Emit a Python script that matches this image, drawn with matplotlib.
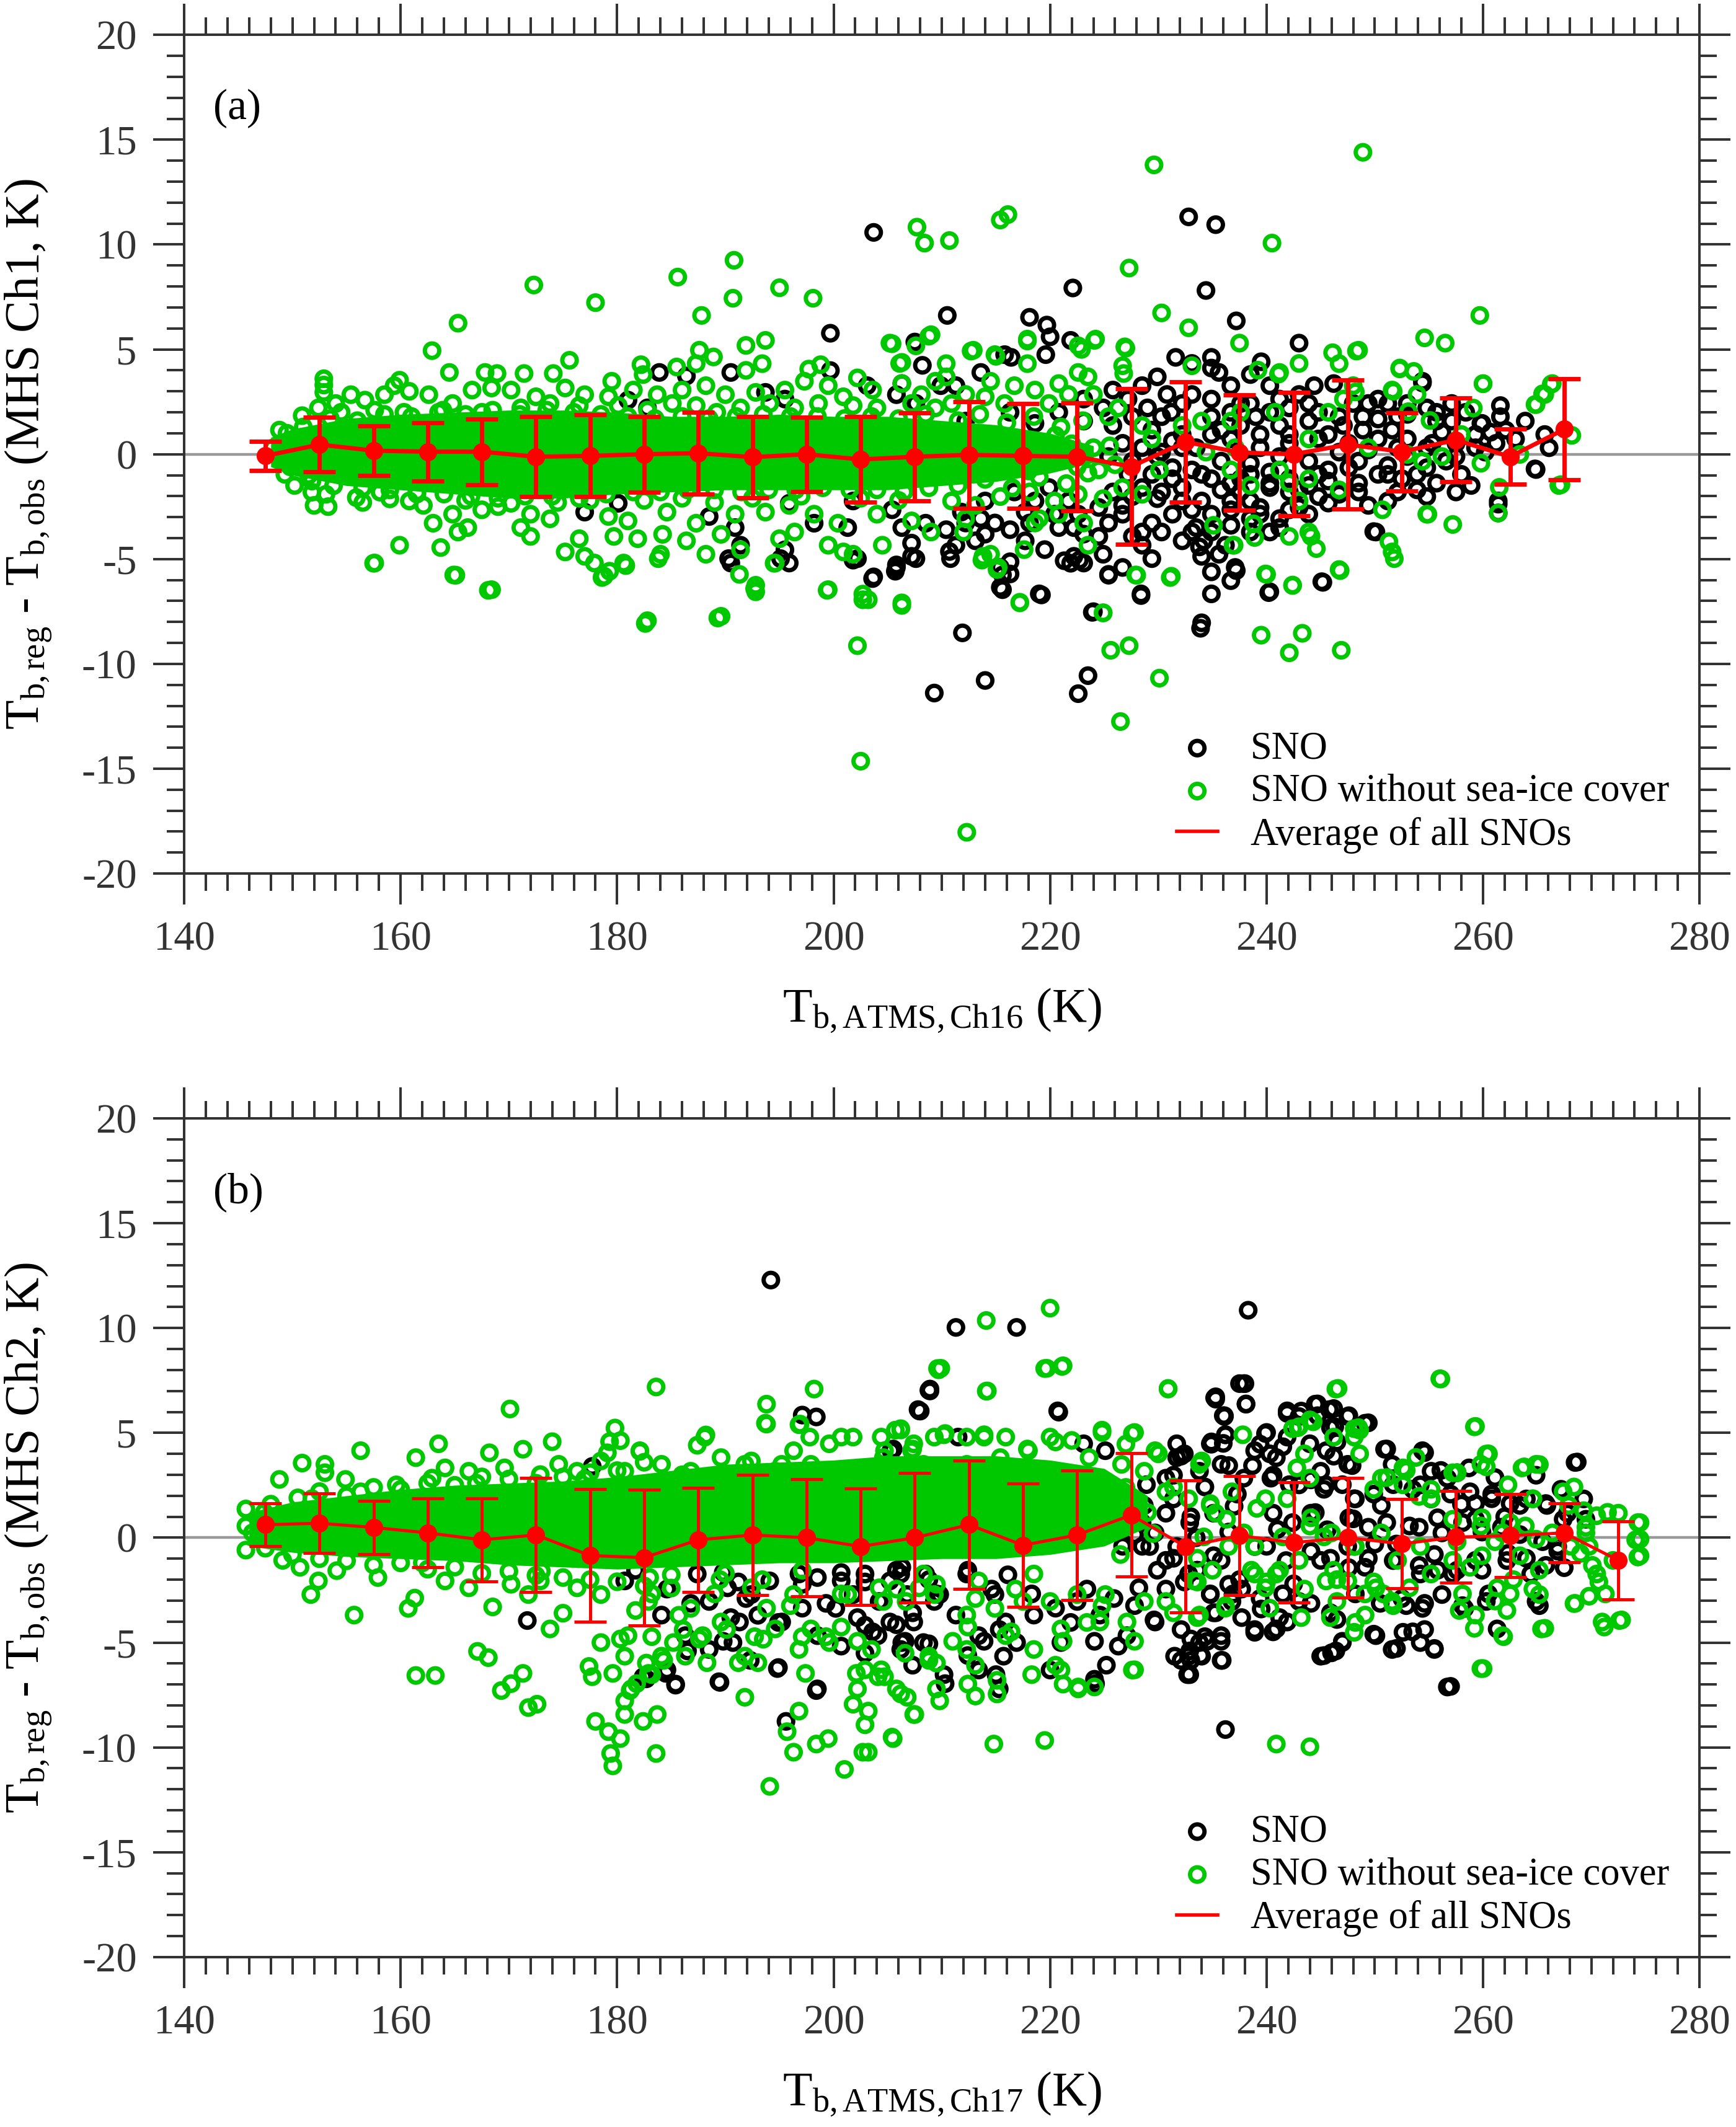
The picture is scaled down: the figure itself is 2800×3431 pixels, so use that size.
import matplotlib
matplotlib.use("Agg")
import matplotlib.pyplot as plt
from matplotlib.ticker import MultipleLocator
from matplotlib.lines import Line2D

plt.rcParams['font.family'] = ['Liberation Serif', 'DejaVu Serif']
plt.rcParams['mathtext.fontset'] = 'custom'
plt.rcParams['mathtext.rm'] = 'Liberation Serif'
plt.rcParams['mathtext.it'] = 'Liberation Serif:italic'
plt.rcParams['axes.unicode_minus'] = False

GREEN = '#00c800'
AXCOL = '#333333'

# ---------------- panel (a): MHS Ch1 vs ATMS Ch16 ----------------
BIN_A = [147.5, 152.5, 157.5, 162.5, 167.5, 172.5, 177.5, 182.5, 187.5, 192.5,
         197.5, 202.5, 207.5, 212.5, 217.5, 222.5, 227.5, 232.5, 237.5, 242.5,
         247.5, 252.5, 257.5, 262.5, 267.5]
MEAN_A = [-0.08, 0.46, 0.17, 0.12, 0.12, -0.12, -0.08, 0.0, 0.05, -0.14,
          0.0, -0.25, -0.12, -0.03, -0.08, -0.12, -0.59, 0.59, 0.08, 0.0,
          0.46, 0.12, 0.68, -0.12, 1.19]
STD_A = [0.70, 1.30, 1.17, 1.39, 1.57, 1.90, 1.95, 1.80, 1.96, 1.93,
         1.77, 2.03, 2.10, 2.54, 2.49, 2.57, 3.72, 2.87, 2.76, 2.95,
         3.07, 1.86, 1.99, 1.32, 2.42]

# saturated core of the green cloud (markers overlap into a solid band)
DENSE_A_X = [148, 150, 155, 160, 165, 170, 175, 180, 185, 190, 195, 200, 205, 210, 215, 220, 224]
DENSE_A_HI = [0.8, 1.2, 1.7, 1.9, 2.0, 2.1, 2.1, 2.0, 1.8, 1.8, 1.9, 1.8, 1.8, 1.6, 1.4, 1.0, 0.4]
DENSE_A_LO = [-0.6, -1.0, -1.5, -1.7, -1.9, -2.1, -2.1, -1.9, -1.8, -1.7, -1.7, -1.7, -1.7, -1.5, -1.3, -0.9, -0.4]

GREEN_A = [
    (172.3, 8.07), (178.0, 7.23), (165.3, 6.25), (162.9, 4.94), (190.7, 7.44), (195.0, 7.94),
    (198.1, 7.44), (187.8, 6.62), (191.9, 5.19), (193.7, 5.43), (193.4, 4.32), (185.6, 8.45),
    (190.8, 9.25), (175.6, 4.48), (174.1, 3.85), (164.5, 3.9), (167.8, 3.9), (168.9, 3.85),
    (171.4, 3.85), (152.9, 3.6), (152.9, 3.3), (152.9, 2.95), (159.9, 3.53), (159.4, 3.27),
    (179.5, 3.48), (182.2, 4.27), (182.4, 3.8), (185.5, 4.16), (187.6, 4.96), (188.9, 4.64),
    (187.3, 4.32), (191.9, 4.0), (197.7, 4.06), (198.8, 4.27), (202.2, 3.64), (205.4, 5.27),
    (206.3, 4.38), (209.0, 5.7), (207.6, 5.17),
    (150.9, 1.84), (148.8, 1.15), (148.2, 0.3), (152.4, 2.21), (154.0, 2.42), (155.4, 2.84),
    (156.7, 2.58), (158.5, 2.84), (160.8, 3.0), (162.6, 2.84), (164.8, 2.42), (166.6, 3.06),
    (168.4, 3.16), (170.2, 3.06), (172.5, 2.74), (175.2, 3.16), (177.0, 2.84), (179.2, 2.74),
    (181.5, 3.06), (183.7, 2.84), (186.0, 3.06), (188.2, 3.27), (190.0, 2.84), (192.8, 2.95),
    (195.5, 3.06), (197.3, 3.48), (199.5, 3.27), (200.9, 2.74), (203.6, 3.06), (206.3, 3.37),
    (208.1, 2.84), (209.4, 3.48),
    (154.5, 2.0), (157.6, 2.1), (160.3, 2.0), (163.9, 2.1), (167.5, 2.0), (171.1, 2.21),
    (173.8, 2.42), (176.5, 2.32), (180.1, 2.32), (182.8, 2.1), (185.1, 2.42), (187.3, 2.32),
    (189.2, 2.0), (191.4, 2.21), (194.1, 2.42), (196.4, 2.21), (198.6, 2.42), (201.8, 2.32),
    (204.0, 2.21), (207.2, 2.42), (209.4, 2.21),
    (149.5, 1.0), (151.0, 1.3), (153.5, 1.7), (156.0, 1.6), (158.5, 1.9), (161.0, 1.8),
    (163.5, 2.0), (166.0, 1.9), (168.5, 2.1), (171.0, 1.9), (173.5, 2.1), (176.0, 2.0),
    (178.5, 1.9), (181.0, 1.8), (183.5, 1.7), (186.0, 1.8), (188.5, 1.7), (191.0, 1.8),
    (193.5, 1.9), (196.0, 1.8), (198.5, 1.8), (201.0, 1.7), (203.5, 1.8), (206.0, 1.7),
    (208.5, 1.9), (149.8, -0.6), (151.5, -1.0), (153.8, -1.5), (156.5, -1.6), (159.0, -1.7),
    (161.5, -1.8), (164.0, -1.9), (166.5, -2.0), (169.0, -2.1), (171.5, -2.0), (174.0, -2.0),
    (176.5, -2.1), (179.0, -1.9), (181.5, -1.8), (184.0, -1.8), (186.5, -1.7), (189.0, -1.7),
    (191.5, -1.8), (194.0, -1.7), (196.5, -1.7), (199.0, -1.6), (201.5, -1.7), (204.0, -1.7),
    (206.5, -1.8), (208.8, -1.6),
    (149.3, -0.96), (150.2, -1.49), (151.8, -1.28), (151.8, -1.81), (152.0, -2.44), (153.3, -2.5),
    (153.1, -1.91), (154.9, -0.96), (155.9, -2.07), (158.1, -1.81), (159.0, -2.13), (160.8, -2.23),
    (162.1, -2.44), (163.0, -3.29), (164.8, -2.86), (165.3, -3.71), (166.2, -3.5), (167.5, -2.65),
    (170.2, -2.34), (172.0, -2.86), (172.0, -3.92), (173.8, -3.08), (175.2, -4.66), (176.5, -4.03),
    (177.0, -4.87), (177.9, -5.19), (179.2, -2.97), (179.7, -3.92), (181.0, -3.18), (181.9, -4.03),
    (184.0, -4.77), (184.2, -3.82), (186.4, -4.13), (188.2, -4.77), (189.6, -3.82), (191.4, -4.56),
    (192.8, -6.25), (194.6, -5.19), (196.4, -3.71), (199.5, -4.34), (201.8, -4.77), (202.7, -6.67),
    (206.3, -7.09), (199.5, -6.46), (189.6, -7.73), (182.8, -7.94), (178.8, -5.82), (180.6, -5.19),
    (168.4, -6.46), (165.1, -5.77), (159.9, -4.34), (157.6, -5.19), (163.7, -4.45), (171.1, -3.5),
    (184.6, -2.76), (187.3, -3.29), (190.9, -2.86), (193.7, -2.76), (195.9, -2.44), (198.2, -2.86),
    (200.4, -3.29), (204.0, -2.86), (207.2, -3.18), (209.0, -3.71), (204.5, -4.34), (200.9, -4.66),
    (195.0, -4.03), (156.5, -2.3), (161.5, -1.9), (166.0, -2.2), (169.0, -2.5), (174.5, -2.3),
    (177.5, -2.2), (182.5, -2.2), (186.0, -2.1), (189.0, -2.3), (192.5, -2.1), (197.0, -2.0),
    (202.5, -2.1), (206.0, -2.2),
    (157.5, -5.2), (164.9, -5.76), (168.1, -6.49), (182.6, -8.07), (189.3, -7.81), (178.6, -5.88),
    (179.3, -5.58), (180.8, -5.31), (183.8, -4.98), (191.3, -5.73), (192.7, -6.41), (192.8, -6.56),
    (194.5, -5.2), (199.4, -6.49), (202.2, -9.13), (202.5, -14.64), (202.7, -6.94),
    (206.3, -7.21), (203.2, -6.94), (213.7, -5.05), (215.1, -5.5), (217.2, -7.06), (224.9, -7.57),
    (225.6, -9.35), (227.3, -9.13), (230.1, -10.68), (226.5, -12.75), (227.9, -5.76), (231.1, -5.88),
    (240.0, -5.73), (242.4, -6.26), (246.8, -5.55), (239.5, -8.63), (243.3, -8.54), (242.1, -9.47),
    (246.9, -9.35), (212.3, -18.03), (251.8, -4.98),
    (248.9, 14.4), (229.6, 13.8), (215.4, 11.17), (216.1, 11.43), (207.7, 10.83), (208.4, 10.07),
    (210.7, 10.19), (240.5, 10.07), (227.3, 8.88), (230.3, 6.74), (232.8, 6.03), (237.5, 5.3),
    (259.7, 6.62), (254.6, 5.55), (256.5, 5.3), (205.2, 5.3), (208.8, 5.63), (217.9, 5.4),
    (227.0, 5.06), (246.1, 4.84), (248.3, 4.92), (243.0, 4.33), (252.3, 4.07), (253.6, 3.95),
    (260.0, 3.36), (266.3, 3.34), (265.5, 2.88), (264.9, 2.37), (251.7, 3.0), (259.1, 2.2),
    (268.2, 0.9), (267.2, -1.45), (261.5, -1.58), (254.9, -2.86), (257.2, -3.35), (251.3, -4.17),
    (237.0, -4.34), (244.1, -3.91), (238.8, -3.32), (226.8, 3.85), (215.0, 4.67), (212.7, 4.92),
    (206.1, 4.33), (224.1, 5.43), (222.9, 5.0), (241.1, 3.82), (248.2, 2.97), (253.1, 2.03),
    (255.1, 1.61),
    (246.7, 4.32), (248.5, 4.96), (252.3, 4.11), (251.6, 3.06), (253.9, 2.85), (260.0, 3.37),
    (264.8, 2.37), (265.7, 2.85), (266.4, 3.37), (267.0, -1.49), (261.4, -2.81), (254.8, -2.86),
    (251.6, -4.66), (250.7, -2.65), (246.7, -5.5), (242.4, -6.24), (239.9, -5.71), (236.9, -4.34),
    (238.9, -3.97), (235.1, -3.39), (231.2, -5.82), (228.0, -5.77), (217.2, -7.09), (224.9, -7.56),
    (215.2, -5.4), (213.8, -4.87), (217.6, -4.55), (212.0, -3.71), (223.5, -4.34), (226.7, -1.59),
    (228.5, -1.91), (230.1, -0.75), (232.2, 1.37), (233.1, 4.22), (234.0, 1.58), (236.7, 1.58),
    (237.6, 2.0), (239.2, 4.01), (241.2, 3.9), (240.8, 2.0), (243.9, 0.73), (245.7, 2.0),
    (247.1, 2.63), (248.0, 3.27), (249.4, 0.31), (253.0, -0.01), (254.4, -0.33), (256.2, -0.11),
    (258.0, 0.94), (259.8, -0.43), (263.4, -0.01), (246.7, -1.7), (243.9, -1.17), (242.1, -1.38),
    (241.2, -0.75), (238.5, -1.49), (236.7, -0.75), (234.4, 0.1), (237.1, 0.31), (243.0, -2.23),
    (243.9, -3.71), (244.6, -4.5), (242.1, -3.92), (226.7, 4.22), (226.9, 5.12), (228.5, 1.37),
    (229.4, 0.73), (225.4, 1.79), (226.3, 2.21), (224.0, 0.31), (224.5, -0.75), (224.9, -2.12),
    (223.1, -3.28), (220.8, -2.86), (219.0, -3.07), (214.5, -4.77),
    (210.4, 4.32), (212.9, 4.96), (214.9, 4.75), (217.9, 5.49), (217.9, 4.32), (222.6, 5.17),
    (224.2, 5.49), (223.5, 3.69), (222.6, 3.9), (220.8, 3.37), (218.6, 3.06), (216.7, 3.27),
    (214.5, 3.48), (214.0, 2.74), (212.2, 2.85), (210.4, 3.69), (210.9, 2.42), (215.8, 2.42),
    (219.9, 2.42), (221.7, 2.85), (224.0, 2.85), (210.9, -2.23), (213.1, -2.44), (215.4, -2.02),
    (218.1, -1.8), (220.4, -2.23), (222.6, -1.91), (218.6, -3.28), (212.2, -3.07),
    (211.5, 1.6), (213.5, 1.9), (216.0, 1.5), (218.5, 1.8), (221.0, 1.3), (223.0, 1.6),
    (211.5, -1.5), (214.0, -1.2), (216.5, -1.6), (219.0, -1.1), (221.5, -1.4), (223.5, -0.9),
    (212.0, 0.4), (214.5, -0.3), (217.0, 0.6), (219.5, -0.2), (222.0, 0.5), (212.5, 1.0),
    (215.5, 0.9), (218.0, -0.8), (220.5, 0.9), (222.5, -0.6), (225.5, 0.4), (226.0, -0.5),
]

BLACK_A = [
    (199.7, 5.77), (183.9, 3.9), (186.4, 3.73), (190.5, 3.9), (199.7, 3.99), (203.7, 10.58),
    (232.8, 11.32), (235.3, 10.95), (222.1, 7.93), (234.4, 7.81), (210.5, 6.62), (237.2, 6.36),
    (218.1, 6.53), (219.7, 6.16), (220.0, 5.6), (221.9, 5.43), (243.0, 5.3), (207.5, 5.35),
    (208.2, 4.24), (219.6, 4.75), (216.4, 4.62), (231.6, 4.62), (234.9, 4.62), (239.5, 4.41),
    (254.4, 3.4), (259.9, 1.47), (264.9, -0.73), (249.9, -3.69), (261.4, -2.38), (261.4, -2.8),
    (210.7, -4.64), (233.8, -4.42),
    (206.3, 3.37), (181.0, 2.58), (182.8, 2.21), (193.7, 2.95), (195.5, 2.63), (203.1, 3.27),
    (205.8, 2.84), (207.6, 2.42), (209.9, 3.27),
    (180.1, -2.34), (177.0, -2.76), (188.5, -2.97), (190.9, -3.5), (191.4, -4.34), (190.5, -5.19),
    (195.5, -4.56), (195.9, -5.19), (195.9, -2.34), (198.2, -3.29), (201.3, -3.5), (202.2, -4.98),
    (203.6, -5.93), (205.8, -5.4), (207.2, -4.24), (208.5, -3.29), (205.4, -2.65), (201.8, -2.23),
    (206.3, -3.5), (207.2, -4.87), (190.3, -4.98), (195.1, -4.98), (201.8, -5.05),
    (203.7, -5.85), (205.7, -5.58), (205.8, -5.28), (210.8, -4.98), (207.6, -4.98), (215.6, -5.76),
    (215.6, -6.46), (219.2, -6.71), (211.9, -8.52), (214.0, -10.79), (209.3, -11.39), (223.5, -10.56),
    (222.6, -11.42), (223.9, -7.54), (225.4, -5.73), (228.4, -6.74), (221.9, -5.2), (222.7, -5.05),
    (233.9, -8.3), (237.2, -5.55), (240.2, -6.6), (245.2, -6.11), (216.3, -5.13),
    (228.5, 3.27), (229.9, 3.69), (230.8, 2.85), (233.1, 4.33), (235.6, 3.9), (236.7, 3.27),
    (238.5, 3.8), (240.3, 3.27), (241.2, 2.63), (244.4, 3.27), (246.2, 3.37), (243.9, 2.42),
    (248.9, 1.79), (250.3, 1.68), (251.6, 1.15), (248.9, 1.15), (254.8, 2.21), (255.7, 2.0),
    (254.4, 3.48), (259.8, 1.47), (260.7, 1.05), (259.3, 0.94), (256.2, 1.05), (255.3, 0.52),
    (253.0, 0.73), (249.4, 0.2), (246.7, 0.1), (243.9, -0.33), (241.2, -0.11), (238.5, -0.43),
    (235.8, -0.33), (233.5, 0.31), (231.3, 0.63), (229.4, 1.15), (227.6, 1.79), (225.8, 1.37),
    (225.4, -0.11), (227.2, -0.96), (228.5, -1.59), (229.9, -2.12), (232.2, -1.59), (234.0, -2.23),
    (235.8, -1.7), (237.6, -1.17), (240.3, -0.85), (242.1, -1.17), (244.8, -0.96), (247.6, -0.64),
    (250.3, -0.96), (252.5, -1.17), (253.9, -1.7), (251.2, -2.23), (249.4, -2.44), (246.7, -1.91),
    (244.8, -2.02), (243.0, -2.54), (241.2, -3.07), (238.5, -2.23), (234.9, -2.86), (233.5, -3.5),
    (231.3, -2.86), (229.4, -3.28), (228.5, -3.71), (228.5, -4.34), (225.4, -3.28), (222.6, -2.86),
    (221.7, -2.23), (220.8, -3.5), (223.1, -3.81), (221.3, -5.08), (222.2, -4.87), (216.3, -3.6),
    (214.9, -3.28), (215.4, -5.4), (216.3, -5.71), (215.4, -6.35), (219.0, -6.66), (224.0, -7.51),
    (225.4, -5.77), (228.4, -6.66), (234.0, -8.04), (237.1, -5.4), (240.3, -6.56), (245.1, -6.08),
    (250.1, -3.71), (258.0, -0.96), (258.9, -1.49), (261.4, -2.23), (264.8, -0.7), (265.7, 0.94),
    (262.1, 1.15),
    (234.9, 4.11), (237.6, 2.42), (239.0, 1.79), (234.9, 1.79), (232.2, 2.42), (230.3, 1.79),
    (243.9, 1.58), (246.7, 1.79), (245.7, 0.94), (248.0, 2.42), (251.2, 2.42), (252.1, 1.79),
    (257.1, 1.58), (257.5, 0.52), (260.2, 0.1), (253.0, -0.11), (254.8, -0.64), (256.6, -0.33),
    (251.2, -0.54), (248.5, -1.38), (245.7, -1.28), (243.0, -1.7), (240.3, -1.59), (237.6, -1.8),
    (236.7, -2.65), (239.4, -2.86), (234.0, -0.96), (231.3, -0.64), (229.9, -0.11), (232.2, 0.94),
    (236.7, 0.73), (239.4, 0.31), (242.1, 0.52), (235.8, 1.15), (241.2, 1.37), (226.7, 0.52),
    (224.9, 2.21), (223.1, 1.58), (223.1, 2.63), (220.8, 2.0), (218.6, 1.47), (216.3, 2.0),
    (214.0, 0.94), (212.2, 1.58), (211.3, 3.27), (213.6, 3.9), (215.8, 4.75), (219.9, -1.59),
    (218.6, -2.23), (216.7, -1.8), (214.0, -2.23), (211.8, -2.76), (210.4, -3.6), (213.1, -4.13),
    (217.7, -2.76), (224.5, -2.54), (226.7, -2.44), (225.8, -1.8), (233.1, -3.71), (234.2, -4.13),
    (235.6, -4.77), (236.2, -4.34), (241.2, -3.5), (238.5, -3.71),
    (225.8, 3.06), (227.2, 2.63), (229.0, 2.21), (231.2, 2.0), (233.1, 2.85), (234.9, 2.63),
    (236.7, 2.0), (238.5, 2.42), (240.3, 2.0), (242.1, 2.21), (243.0, 2.85), (244.8, 2.0),
    (247.1, 1.37), (249.4, 2.42), (253.0, 2.42), (257.1, 2.42), (258.4, 2.0), (261.6, 1.79),
    (263.0, 0.73), (261.2, 0.52), (259.3, 0.31), (257.5, -0.11), (254.8, 0.31), (252.1, 0.31),
    (250.3, 0.73), (247.6, 0.52), (244.8, 0.73), (242.1, 0.94), (239.4, 0.94), (237.6, 1.37),
    (234.9, 0.94), (232.2, 0.31), (230.3, 0.1), (228.5, 0.31), (227.6, -0.33), (229.4, -0.96),
    (231.3, -1.17), (233.1, -0.75), (234.9, -1.17), (236.7, -1.38), (238.5, -0.96), (240.3, -1.38),
    (242.1, -1.8), (243.9, -1.49), (245.7, -0.75), (248.5, -0.33), (251.2, -0.96), (253.9, -0.96),
    (255.7, -1.38), (257.5, -1.8), (254.8, -2.02), (252.1, -1.8), (248.5, -1.8), (245.7, -2.33),
    (243.9, -2.86), (242.1, -2.65), (239.4, -2.54), (236.7, -2.23), (233.1, -2.65), (232.2, -2.23),
    (230.3, -1.8), (227.6, -2.02), (226.7, -2.86), (230.3, -3.71), (232.2, -4.13), (234.9, -3.71),
    (236.7, -3.39), (238.5, -3.07), (240.3, -3.71), (227.6, -3.92), (224.5, -3.92), (222.2, -3.5),
    (220.4, -2.86), (218.1, -3.28), (217.7, -4.13), (219.5, -4.55), (213.6, -3.07), (212.2, -3.28),
    (214.0, -3.81), (211.3, -4.34), (223.1, -5.19), (224.9, -4.77), (226.7, -5.4), (229.4, -4.98),
    (234.0, -4.87), (234.9, -5.61), (236.7, -6.03), (234.9, -6.66), (250.3, 2.63), (253.0, 1.9),
    (255.7, 1.58), (261.6, 2.32), (263.9, 1.58), (266.1, 0.31),
]

# ---------------- panel (b): MHS Ch2 vs ATMS Ch17 ----------------
BIN_B = [147.5, 152.5, 157.5, 162.5, 167.5, 172.5, 177.5, 182.5, 187.5, 192.5,
         197.5, 202.5, 207.5, 212.5, 217.5, 222.5, 227.5, 232.5, 237.5, 242.5,
         247.5, 252.5, 257.5, 262.5, 267.5, 272.5]
MEAN_B = [0.62, 0.69, 0.49, 0.23, -0.10, 0.13, -0.85, -0.95, -0.10, 0.13,
          0.0, -0.42, 0.0, 0.62, -0.36, 0.13, 1.08, -0.42, 0.10, -0.23,
          0.0, -0.29, 0.03, 0.10, 0.23, -1.08]
STD_B = [1.01, 1.41, 1.28, 1.64, 1.98, 2.73, 3.17, 3.24, 2.49, 2.86,
         2.80, 2.78, 3.09, 3.07, 2.95, 3.09, 2.94, 3.14, 2.85, 2.86,
         2.86, 2.13, 2.19, 1.97, 1.41, 1.85]

DENSE_B_X = [146, 150, 155, 160, 165, 170, 175, 180, 185, 190, 195, 200, 205, 210, 215, 220, 225, 229]
DENSE_B_HI = [1.2, 1.7, 2.0, 2.3, 2.5, 2.6, 2.7, 2.9, 3.2, 3.5, 3.6, 3.7, 3.9, 3.9, 3.9, 3.7, 3.3, 2.0]
DENSE_B_LO = [-0.4, -0.7, -0.9, -1.0, -1.1, -1.3, -1.4, -1.5, -1.4, -1.3, -1.2, -1.2, -1.1, -1.0, -1.0, -0.8, -0.4, 0.5]

GREEN_B = [
    (183.6, 7.19), (170.1, 6.14), (198.2, 7.09), (193.8, 6.37), (193.7, 5.46), (196.8, 5.39),
    (206.2, 5.2), (209.6, 8.07), (156.3, 4.15), (163.5, 4.48), (161.4, 3.82), (164.1, 3.33),
    (171.3, 4.22), (174.0, 4.58), (179.3, 4.58), (179.8, 5.23), (179.1, 4.05), (188.2, 4.9),
    (187.4, 4.41), (148.8, 2.78), (150.9, 3.56), (153.0, 3.5), (153.0, 3.1), (154.9, 2.78),
    (168.2, 4.05), (174.6, 3.5), (178.5, 3.66), (182.1, 4.15), (186.8, 3.17), (192.4, 3.66),
    (194.6, 3.17), (196.3, 4.15), (199.6, 4.48), (201.8, 4.8), (204.6, 3.82), (207.4, 4.48),
    (145.7, 1.37), (145.7, 0.56), (145.7, -0.59), (146.3, 0.23), (149.1, -1.08), (151.7, -2.71),
    (152.4, -2.06), (155.7, -3.69), (160.7, -3.37), (161.3, -2.88), (161.4, -6.57), (163.2, -6.57),
    (167.1, -5.42), (168.1, -5.72), (169.3, -7.29), (170.2, -6.96), (171.3, -6.47), (171.8, -8.1),
    (172.6, -7.94), (173.8, -4.35), (171.8, -2.71), (177.4, -6.14), (177.7, -6.63), (178.0, -8.76),
    (179.2, -9.25), (179.4, -10.29), (179.6, -10.88), (180.3, -9.58), (180.7, -8.43), (180.7, -7.78),
    (181.2, -7.29), (181.8, -6.96), (182.7, -5.98), (182.4, -8.76), (183.7, -8.43), (183.6, -10.29),
    (182.9, -6.47), (179.6, -6.47), (180.7, -5.65), (178.5, -5.0), (181.0, -4.67), (184.1, -5.65),
    (185.2, -5.0), (186.3, -5.65), (187.9, -4.67), (191.8, -7.61), (191.8, -5.65), (193.5, -4.84),
    (194.1, -11.86), (195.7, -9.25), (196.3, -10.23), (196.8, -8.27), (196.8, -5.33), (197.4, -6.47),
    (197.9, -4.35), (198.4, -9.84), (199.5, -9.58), (201.0, -11.05), (202.7, -10.23), (202.9, -8.92),
    (201.8, -7.94), (202.1, -6.47), (204.1, -6.63), (203.5, -5.33), (205.4, -9.51), (206.8, -7.61),
    (207.4, -8.43), (199.6, -5.0), (194.6, -4.35), (189.6, -4.02), (186.8, -3.37), (182.9, -3.04),
    (178.5, -2.71), (176.3, -2.39), (172.9, -2.06), (170.2, -2.22), (166.3, -2.39), (164.1, -2.06),
    (157.9, -1.9), (154.1, -1.57), (150.7, -1.41), (196.3, -2.71), (192.4, -2.39), (201.3, -2.71),
    (204.6, -3.04), (207.9, -2.39), (175.0, -3.6), (168.5, -3.3), (185.0, -2.4), (189.5, -2.0),
    (147.4, 1.21), (151.8, 1.86), (156.3, 2.19), (159.6, 2.52), (162.9, 2.84), (166.3, 3.17),
    (169.6, 3.33), (172.9, 3.01), (176.3, 3.17), (180.7, 3.17), (184.1, 3.5), (189.6, 3.82),
    (191.8, 3.5), (195.2, 3.5), (197.9, 3.5), (158.0, 1.4), (162.0, -1.2), (167.0, 2.6),
    (173.0, -1.6), (177.0, 2.8), (183.0, -1.9), (186.0, 3.0), (190.0, -1.7),
    (148.0, 1.6), (150.5, 1.9), (152.5, 2.2), (155.0, 2.0), (157.5, 2.4), (160.0, 2.3),
    (162.5, 2.6), (165.0, 2.5), (167.5, 2.9), (170.0, 2.8), (172.5, 2.6), (175.0, 2.9),
    (177.5, 3.1), (180.0, 3.2), (182.5, 3.6), (147.5, -0.5), (150.0, -0.8), (152.5, -1.0),
    (155.0, -1.1), (157.5, -1.3), (160.0, -1.2), (162.5, -1.5), (165.0, -1.4), (167.5, -1.7),
    (170.0, -1.6), (172.5, -1.8), (175.0, -1.9), (177.5, -2.0), (180.0, -2.1), (182.5, -2.3),
    (220.0, 10.95), (214.1, 10.36), (209.7, 8.01), (214.1, 6.99), (219.5, 8.07), (221.1, 8.17),
    (230.9, 7.09), (246.4, 7.09), (256.0, 7.58), (259.2, 5.29), (260.3, 3.99), (259.8, 3.5),
    (263.6, 3.33), (264.9, 3.5), (242.4, 5.2), (244.0, 5.62), (248.1, 5.2), (252.6, 3.33),
    (257.2, 3.1), (262.3, 2.52), (264.6, 1.86), (267.4, 2.19), (267.9, 1.54), (270.5, 1.05),
    (271.5, 1.21), (274.3, 0.72), (274.1, -0.1), (274.3, -0.92), (272.0, -1.08), (270.5, -1.73),
    (269.0, -0.75), (271.0, -4.02), (272.6, -3.95), (268.4, -3.14), (265.4, -4.35), (265.2, -2.71),
    (261.8, -4.67), (259.8, -6.24), (261.3, -2.39), (258.8, -1.41), (257.2, -1.08), (259.3, -3.69),
    (255.2, -1.73), (253.2, -2.39), (251.6, -3.04), (249.1, -3.69), (248.1, -4.51), (246.5, -3.04),
    (245.5, -2.06), (247.5, -2.06), (250.1, -2.39), (252.1, -1.08), (254.2, -0.42), (250.6, 0.23),
    (248.1, -0.42), (246.0, 0.23), (244.0, 0.56), (243.0, -1.08), (240.9, -1.73), (239.9, -2.39),
    (238.9, -1.73), (237.9, 0.23), (236.3, 0.88), (234.8, 1.54), (232.8, 1.86), (230.7, 2.19),
    (233.8, 3.5), (236.8, 2.19), (239.9, 1.86), (241.9, 1.86), (244.0, 2.84), (243.0, 5.29),
    (248.1, 4.8), (248.6, 5.13), (250.6, 2.84), (252.6, 2.52), (255.2, 1.86), (257.2, 0.88),
    (259.8, 0.56), (261.8, 0.23), (263.9, 0.56), (266.4, 0.23), (269.5, 0.23), (233.3, -2.06),
    (233.8, -3.69), (230.7, -3.04), (228.7, -3.04), (227.6, -6.31), (224.1, -7.12), (222.6, -7.12),
    (221.0, -6.31), (219.5, -9.67), (214.8, -9.84), (215.1, -7.45), (215.1, -6.8), (213.1, -7.55),
    (209.8, -7.78), (207.5, -8.43), (206.2, -7.45), (205.5, -9.58), (203.2, -10.23), (203.2, -8.27),
    (204.7, -6.63), (209.5, -5.98), (208.8, -5.65), (212.3, -5.33), (215.9, -4.67), (218.5, -5.33),
    (221.0, -4.35), (224.6, -4.02), (227.1, -4.02), (225.1, -2.71), (222.5, -2.71), (220.0, -3.04),
    (217.5, -3.04), (214.9, -3.37), (212.3, -3.69), (209.3, -2.71), (206.7, -3.04), (204.2, -2.39),
    (218.5, -1.73), (213.4, -2.06), (208.3, -1.73), (240.9, -9.84), (244.0, -9.97),
    (205.7, 5.13), (207.2, 4.15), (209.3, 4.8), (210.3, 4.97), (212.3, 4.8), (213.9, 4.8),
    (215.9, 4.8), (218.0, 4.15), (220.0, 4.8), (222.0, 4.64), (224.8, 5.13), (227.6, 4.97),
    (229.7, 4.15), (215.4, 3.82), (212.3, 3.5), (208.3, 3.5), (204.7, 4.15), (223.6, 3.82),
    (226.6, 3.5), (228.7, 3.17), (227.0, 2.4), (229.0, 1.2), (226.5, -0.8), (229.5, 0.2),
    (193.8, 5.42), (196.9, 5.42), (209.9, 8.08), (219.7, 8.08), (221.2, 8.2), (214.2, 7.0),
    (230.9, 7.12), (206.2, 5.14), (204.4, 4.8), (200.7, 4.8), (197.8, 4.8), (188.1, 4.8),
    (182.1, 4.12), (180.3, 4.63), (210.2, 4.91), (213.9, 4.91), (220.5, 4.57), (224.8, 5.02),
    (227.8, 5.02), (207.3, 4.23), (217.9, 4.23), (227.0, 4.46), (230.0, 4.0), (234.0, 3.66),
    (231.4, 2.42), (181.7, -3.47), (180.3, -4.83), (183.2, -4.72), (184.3, -5.85), (183.2, -6.53),
    (181.3, -7.21), (185.7, -3.7), (187.6, -4.83), (188.3, -5.96), (190.1, -4.38), (191.2, -5.96),
    (193.0, -5.96), (192.7, -4.72), (193.8, -3.36), (196.0, -3.24), (197.1, -4.72), (199.3, -4.72),
    (200.7, -4.26), (202.2, -4.94), (202.9, -6.3), (202.2, -7.21), (204.4, -6.3), (205.8, -7.21),
    (206.6, -5.51), (208.8, -5.85), (209.5, -7.21), (211.0, -4.94), (212.4, -4.26), (213.1, -6.08),
    (212.4, -6.98), (216.4, -4.49), (218.3, -6.53), (220.5, -6.08), (221.2, -6.98), (222.6, -7.21),
    (221.2, -4.94), (223.4, -4.04), (224.8, -3.24), (227.8, -4.94), (227.8, -6.3), (231.4, -3.58),
    (233.6, -2.11), (236.2, -3.24), (216.8, -2.45), (213.1, -2.9), (209.5, -2.22), (205.8, -2.45),
    (200.7, -2.68), (197.1, -1.55), (193.4, -2.0), (189.0, -2.68), (185.0, -1.77), (183.2, -2.68),
    (186.1, -4.38),
    (246.6, 7.12), (256.1, 7.57), (259.3, 5.31), (260.5, 4.0), (260.3, 3.38), (263.8, 3.38),
    (265.2, 3.49), (237.8, 4.91), (242.9, 5.25), (244.3, 5.53), (248.5, 5.25), (243.5, 4.0),
    (242.8, 3.33), (246.2, 4.8), (248.6, 4.0), (253.8, 3.83), (252.9, 3.21), (268.4, 2.42),
    (274.5, 0.72), (274.5, -0.07), (274.5, -0.86), (272.5, 1.17), (272.8, -3.92), (271.2, -4.26),
    (268.5, -3.13), (265.7, -4.32), (261.9, -4.72), (259.2, -4.32), (260.0, -6.24), (236.2, -3.36),
    (240.3, -3.36), (243.2, -3.81), (233.6, -3.81), (234.8, 1.63), (235.3, 1.17), (239.1, 1.4),
    (238.9, -0.41), (238.6, -1.55), (240.0, -2.11), (241.2, -1.55), (243.5, -2.45), (246.2, -1.55),
    (246.5, -2.0), (245.9, -3.81), (248.2, -4.04), (249.1, -2.68), (249.9, -2.11), (250.8, -2.68),
    (251.7, -3.24), (249.9, 2.31), (251.1, 2.87), (254.1, 1.97), (255.2, 2.31), (257.6, 3.1),
    (259.9, 0.95), (257.6, -0.19), (259.9, -0.86), (261.1, -0.19), (262.5, 0.72), (263.4, -0.86),
    (264.9, -0.07), (264.6, 1.85), (265.2, -1.55), (262.8, -2.0), (264.6, -2.45), (262.5, -2.68),
    (261.1, -3.02), (258.1, -2.68), (257.8, -3.47), (262.2, -3.47), (269.3, 1.29), (269.5, 0.5),
    (269.8, -0.41), (270.1, -1.32), (270.7, -2.11), (269.8, -2.79), (271.3, -2.68), (268.1, -0.41),
    (248.2, -0.41), (244.1, 0.95), (245.3, 0.04), (241.5, 0.04), (236.5, -0.41), (234.2, 0.04),
    (233.6, -0.98), (235.0, -1.55),
]

BLACK_B = [
    (194.2, 12.29), (208.9, 7.09), (207.8, 6.11), (205.3, 4.15), (197.1, 5.85), (177.7, 3.4),
    (171.7, -3.95), (185.4, -7.03), (184.5, -6.47), (182.7, -6.73), (189.5, -6.9), (194.8, -6.24),
    (198.4, -7.29), (195.6, -8.76), (186.3, -4.67), (188.5, -5.33), (190.7, -5.0), (192.4, -2.71),
    (191.3, -4.02), (195.2, -4.02), (198.5, -4.67), (200.2, -3.37), (201.8, -2.71), (202.9, -4.18),
    (204.1, -4.67), (206.3, -5.0), (207.4, -4.02), (202.9, -1.73), (205.2, -2.06), (206.8, -2.71),
    (208.5, -1.73), (209.3, -3.04), (206.3, -1.41), (198.5, -1.9), (200.7, -2.06), (196.8, -1.73),
    (194.1, -2.06), (188.5, -3.04), (184.1, -3.69), (187.4, -1.73), (190.2, -2.39), (180.7, -2.06),
    (211.3, 10.03), (216.9, 10.03), (238.3, 10.85), (220.7, 6.05), (207.9, 6.05), (208.8, 7.03),
    (237.9, 7.35), (238.1, 6.37), (235.2, 6.67), (236.1, 5.78), (234.8, 4.48), (241.9, 6.05),
    (243.0, 5.78), (244.5, 6.37), (245.8, 6.11), (246.3, 5.29), (247.5, 5.78), (249.1, 5.46),
    (244.0, 4.48), (241.9, 4.8), (239.9, 4.97), (240.9, 3.82), (238.9, 4.15), (250.9, 4.22),
    (254.4, 4.15), (255.2, 3.17), (256.7, 2.84), (254.2, 2.52), (251.6, 3.5), (247.5, 3.5),
    (245.0, 3.17), (268.5, 3.59), (258.8, 2.19), (260.8, 1.86), (263.4, 1.54), (265.9, 1.54),
    (267.4, 0.88), (269.5, 0.88), (259.3, 0.88), (256.2, 0.23), (253.2, 0.56), (250.6, 1.54),
    (248.1, 1.86), (245.5, 2.52), (243.0, 2.52), (240.4, 2.84), (237.9, 2.84), (235.8, 3.5),
    (233.8, 3.17), (231.7, 3.82), (230.7, 2.84), (228.7, 1.54), (229.7, 0.23), (231.7, -0.42),
    (230.7, -1.08), (229.2, -0.42), (232.8, -1.73), (234.8, -2.71), (235.8, -4.67), (233.8, -5.0),
    (232.8, -5.65), (231.5, -5.65), (232.8, -6.47), (234.0, -5.65), (236.2, -9.15), (229.7, -4.02),
    (228.2, -2.39), (227.1, -4.67), (224.2, -6.96), (236.8, -3.04), (238.9, -4.51), (240.9, -4.35),
    (241.9, -4.02), (243.0, -3.04), (245.0, -5.65), (246.0, -5.49), (247.0, -5.0), (250.1, -4.67),
    (251.6, -5.33), (252.6, -4.51), (254.2, -5.0), (255.5, -5.33), (254.4, -3.37), (256.7, -7.12),
    (256.2, -2.71), (258.3, -3.37), (260.3, -3.04), (261.3, -4.35), (264.9, -3.04), (249.1, -1.41),
    (247.5, -0.42), (245.0, -1.08), (238.9, -0.42), (235.8, -1.08), (254.2, -1.73), (257.2, -1.73),
    (259.3, -1.08), (262.3, -0.75), (264.4, -1.73), (266.9, -0.42), (224.6, -3.69), (222.5, -3.04),
    (218.5, -3.69), (215.9, -4.02), (213.4, -4.67), (211.3, -3.69), (209.8, -2.71), (208.3, -5.0),
    (206.2, -5.33), (205.2, -4.02), (215.7, -5.65), (213.4, -6.31), (210.3, -6.96), (214.9, -2.71),
    (221.0, -5.0), (220.0, -6.31), (216.9, -5.0), (212.3, -1.73), (206.2, -1.73), (204.2, -3.04),
    (226.1, 0.23), (226.6, 1.86), (224.6, 2.19), (225.1, 4.15), (223.1, 4.48), (231.7, 4.48),
    (245.5, 4.15), (233.0, 1.0), (237.0, 1.5), (241.0, 0.4), (244.5, 1.2), (248.0, 0.9),
    (252.0, -0.3), (255.5, -0.8), (250.0, -0.3), (242.5, -2.2), (237.5, -2.0), (233.5, 0.0),
    (239.5, -3.4), (246.5, -3.9), (252.5, -2.9), (258.0, 1.6), (262.0, 1.0), (236.0, 4.5),
    (208.9, 7.0), (208.0, 6.04), (220.8, 5.99), (198.4, 5.76), (237.5, 7.35), (235.3, 6.72),
    (236.0, 5.82), (236.2, 4.91), (234.9, 4.46), (232.1, 3.89), (211.5, 4.8), (205.5, 4.23),
    (227.8, 0.15), (228.5, -0.41), (229.9, -1.55), (230.7, -2.45), (229.6, -3.92), (232.1, -4.38),
    (232.9, -5.4), (234.3, -4.72), (235.8, -5.85), (232.9, -6.53), (232.1, -5.85), (235.8, -4.94),
    (235.1, -3.58), (236.9, -2.68), (208.8, -2.0), (209.5, -2.68), (207.3, -3.58), (205.8, -4.15),
    (203.6, -4.49), (202.2, -3.81), (199.3, -3.13), (197.1, -3.36), (194.9, -4.04), (193.0, -3.7),
    (191.9, -2.9), (191.2, -2.11), (189.8, -1.66), (197.1, -2.22), (200.7, -1.66), (202.9, -2.11),
    (205.8, -1.55), (212.4, -1.55), (214.6, -2.45), (216.1, -1.77), (218.3, -2.68), (220.5, -3.36),
    (221.9, -4.04), (223.4, -2.45), (225.9, -2.9), (227.8, -3.24), (224.1, -4.94), (226.3, -5.17),
    (225.2, -6.08), (224.1, -6.75), (215.3, -4.38), (213.9, -4.94), (212.4, -5.62), (215.0, -6.53),
    (215.3, -7.21), (210.2, -6.53), (208.8, -5.06), (206.6, -4.94), (207.3, -6.08), (202.9, -5.51),
    (200.7, -5.17), (198.5, -7.21), (194.9, -6.19), (192.3, -5.85), (189.8, -4.94), (189.4, -6.87),
    (185.4, -6.98), (184.6, -6.3), (186.5, -5.4), (182.4, -6.64), (190.5, -3.81), (186.8, -3.13),
    (184.6, -2.45), (181.7, -1.55), (226.3, 1.17), (228.5, 0.72), (230.7, 1.17), (232.9, 0.72),
    (235.1, 1.17), (236.5, 0.27), (226.7, -0.41), (231.4, -0.98), (235.1, -0.86), (228.9, 2.53),
    (231.4, 2.98), (234.3, 2.42), (231.4, 1.85), (237.3, 2.08), (233.6, -1.55), (236.5, -2.22),
    (238.0, 7.35), (235.3, 6.61), (238.1, 6.38), (236.1, 5.82), (234.9, 4.57), (236.2, 4.91),
    (232.4, 4.0), (238.7, 3.44), (236.5, 3.44), (241.9, 5.93), (243.2, 6.04), (244.7, 6.38),
    (246.2, 6.16), (247.6, 5.82), (249.4, 5.48), (240.0, 5.02), (239.4, 4.46), (240.3, 4.0),
    (241.5, 4.34), (244.7, 5.82), (245.9, 5.25), (246.5, 4.57), (246.2, 3.89), (247.9, 3.44),
    (251.1, 4.23), (254.6, 4.06), (256.1, 3.21), (257.6, 3.1), (258.7, 3.33), (261.1, 2.87),
    (264.9, 2.98), (268.7, 3.61), (267.2, 2.31), (269.3, 1.85), (240.6, 2.98), (242.1, 2.53),
    (244.1, 2.76), (245.3, 2.31), (247.0, 2.53), (248.2, 1.85), (249.9, 2.08), (251.7, 2.53),
    (253.5, 2.31), (255.2, 1.85), (257.0, 2.08), (259.3, 1.63), (260.8, 2.08), (262.5, 1.63),
    (264.0, 1.85), (265.8, 1.63), (267.8, 1.17), (240.6, 1.17), (242.4, 0.72), (244.1, 1.17),
    (245.6, 0.38), (247.6, 0.95), (249.4, 0.5), (251.1, 0.72), (254.1, 0.5), (255.8, 0.95),
    (258.1, 0.72), (259.9, 0.27), (261.7, 0.5), (263.4, 0.15), (265.5, -0.19), (266.9, -0.64),
    (240.0, -0.41), (241.8, -1.09), (244.1, -0.64), (245.9, -0.98), (247.6, -1.43), (249.4, -0.98),
    (251.7, -1.09), (254.1, -1.32), (255.8, -1.55), (257.6, -1.55), (259.9, -1.55), (262.2, -1.09),
    (264.0, -0.98), (265.8, -1.32), (267.5, -1.43), (237.7, -2.45), (239.4, -2.9), (241.5, -2.68),
    (244.1, -3.13), (245.9, -3.58), (248.2, -2.68), (250.5, -3.13), (252.9, -3.24), (254.6, -3.13),
    (258.1, -3.24), (260.5, -2.68), (265.2, -3.24), (232.4, -2.11), (233.6, -1.55), (234.8, -2.68),
    (235.3, -3.58), (237.7, -3.81), (238.9, -4.38), (240.6, -4.49), (241.2, -3.81), (233.0, -4.83),
    (234.5, -4.94), (233.0, -5.85), (233.9, -5.62), (235.9, -5.85), (232.7, -6.53), (245.3, -5.62),
    (246.4, -5.4), (247.0, -4.94), (249.9, -4.6), (252.0, -5.28), (253.5, -4.49), (254.6, -4.38),
    (255.5, -5.28), (257.0, -7.09),
]


def draw_panel(ax, black, green, dx, dlo, dhi, bins, mean, std, tag, xlab, ylab, lw):
    ax.axhline(0, color='#999999', lw=3.2, zorder=1)
    bx = [p[0] for p in black]
    by = [p[1] for p in black]
    gx = [p[0] for p in green]
    gy = [p[1] for p in green]
    sc_b = ax.scatter(bx, by, s=280, facecolors='none', edgecolors='black',
                      linewidths=5.0, zorder=2)
    ax.fill_between(dx, dlo, dhi, color=GREEN, lw=0, zorder=3)
    sc_g = ax.scatter(gx, gy, s=280, facecolors='none', edgecolors=GREEN,
                      linewidths=5.0, zorder=3)
    ax.errorbar(bins, mean, yerr=std, fmt='-o', color='red', ms=20, lw=lw,
                elinewidth=lw, capsize=19, capthick=lw, zorder=5)

    ax.set_xlim(140, 280)
    ax.set_ylim(-20, 20)
    ax.xaxis.set_major_locator(MultipleLocator(20))
    ax.xaxis.set_minor_locator(MultipleLocator(2))
    ax.yaxis.set_major_locator(MultipleLocator(5))
    ax.yaxis.set_minor_locator(MultipleLocator(1))
    ax.tick_params(which='both', direction='out', top=True, right=True,
                   width=2.9, color=AXCOL, labelsize=48, labelcolor=AXCOL, pad=19)
    ax.tick_params(which='major', length=36)
    ax.tick_params(which='minor', length=20)
    for s in ax.spines.values():
        s.set_linewidth(2.9)
        s.set_color(AXCOL)

    ax.set_xlabel(xlab, fontsize=56)
    ax.xaxis.set_label_coords(0.5, -0.135)
    ax.set_ylabel(ylab, fontsize=56)
    ax.yaxis.set_label_coords(-0.086, 0.5)
    ax.text(0.019, 0.912, tag, transform=ax.transAxes, fontsize=50,
            ha='left', va='center')

    avg = Line2D([0], [0], color='red', lw=4)
    ax.legend([sc_b, sc_g, avg],
              ['SNO', 'SNO without sea-ice cover', 'Average of all SNOs'],
              loc='lower left', bbox_to_anchor=(0.655, 0.024), frameon=False,
              fontsize=45, handlelength=1.06, handletextpad=0.85,
              labelspacing=0.18, borderpad=0, borderaxespad=0, scatterpoints=1)


fig = plt.figure(figsize=(28, 34.31), dpi=100)
ax_a = fig.add_axes([0.1061, 0.5893, 0.8729, 0.3943])
ax_b = fig.add_axes([0.1061, 0.0799, 0.8729, 0.3943])

draw_panel(ax_a, BLACK_A, GREEN_A, DENSE_A_X, DENSE_A_LO, DENSE_A_HI,
           BIN_A, MEAN_A, STD_A, '(a)',
           r'$\mathrm{T_{b,ATMS,Ch16}}$ (K)',
           r'$\mathrm{T_{b,reg}}$ - $\mathrm{T_{b,obs}}$ (MHS Ch1, K)', 5.0)
draw_panel(ax_b, BLACK_B, GREEN_B, DENSE_B_X, DENSE_B_LO, DENSE_B_HI,
           BIN_B, MEAN_B, STD_B, '(b)',
           r'$\mathrm{T_{b,ATMS,Ch17}}$ (K)',
           r'$\mathrm{T_{b,reg}}$ - $\mathrm{T_{b,obs}}$ (MHS Ch2, K)', 3.6)

fig.savefig('out.png', dpi=100)
